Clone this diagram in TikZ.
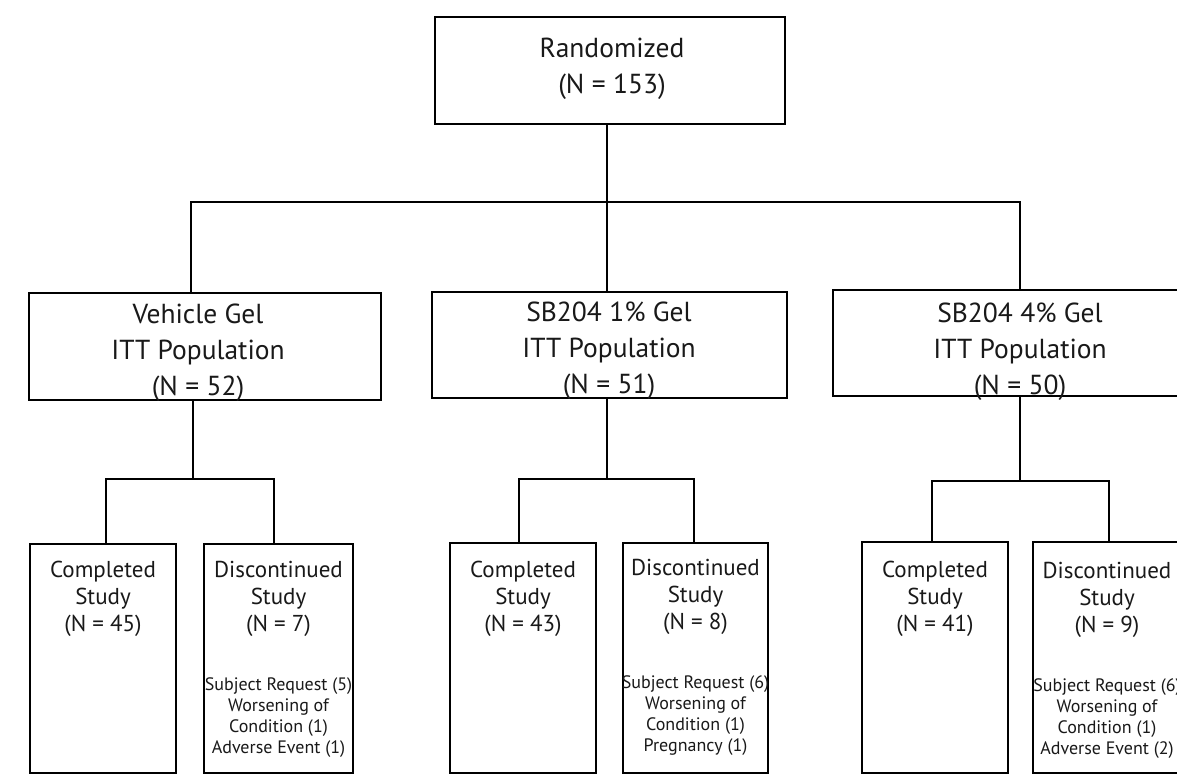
\documentclass[tikz,border=0pt]{standalone}
\usepackage{fontspec}
\setmainfont{PT Sans}
\begin{document}
\begin{tikzpicture}[x=1pt,y=-1pt,
  box/.style={draw=black, line width=1.8pt, inner sep=0pt},
  conn/.style={draw=black, line width=1.8pt},
  bigtxt/.style={font=\fontsize{27.5}{36}\selectfont, align=center, anchor=base, inner sep=0pt, text=black!90},
  midtxt/.style={font=\fontsize{23}{27}\selectfont, align=center, anchor=base, inner sep=0pt, text=black!90},
  smalltxt/.style={font=\fontsize{18}{21}\selectfont, align=center, anchor=base, inner sep=0pt, text=black!90}]
\useasboundingbox (0,0) rectangle (1177,776);
\clip (0,0) rectangle (1177,776);
\fill[white] (0,0) rectangle (1177,776);

% boxes
\node[box, minimum width=350pt, minimum height=107pt] (R) at (610,70.5) {};
\node[box, minimum width=352pt, minimum height=107pt] (V) at (205,346.5) {};
\node[box, minimum width=355pt, minimum height=106pt] (M) at (609.5,345) {};
\node[box, minimum width=374pt, minimum height=106pt] (F) at (1020,343) {};
\node[box, minimum width=146pt, minimum height=229pt] (C1) at (103,658.5) {};
\node[box, minimum width=149pt, minimum height=229pt] (D1) at (278.5,658.5) {};
\node[box, minimum width=146pt, minimum height=230pt] (C2) at (523,658) {};
\node[box, minimum width=145pt, minimum height=230pt] (D2) at (695.5,658) {};
\node[box, minimum width=146pt, minimum height=231pt] (C3) at (935,657.5) {};
\node[box, minimum width=150pt, minimum height=231pt] (D3) at (1108,657.5) {};

% connectors
\coordinate (j0) at (607,202);
\coordinate (hL) at (191,202);
\coordinate (hR) at (1020,202);
\draw[conn] (j0 |- R.south) -- (j0 |- M.north);
\draw[conn] (V.north -| hL) -- (hL) -- (hR) -- (F.north -| hR);

\coordinate (v1) at (193,479); \coordinate (v2) at (106,479); \coordinate (v3) at (274,479);
\draw[conn] (V.south -| v1) -- (v1);
\draw[conn] (C1.north -| v2) -- (v2) -- (v3) -- (D1.north -| v3);

\coordinate (m1) at (607,479); \coordinate (m2) at (519,479); \coordinate (m3) at (694,479);
\draw[conn] (M.south -| m1) -- (m1);
\draw[conn] (C2.north -| m2) -- (m2) -- (m3) -- (D2.north -| m3);

\coordinate (f1) at (1020,481); \coordinate (f2) at (932,481); \coordinate (f3) at (1109,481);
\draw[conn] (F.south -| f1) -- (f1);
\draw[conn] (C3.north -| f2) -- (f2) -- (f3) -- (D3.north -| f3);

% texts (anchor = baseline of the last line)
\node[bigtxt] (Rt) at (612,93) {Randomized\\(N = 153)};
\node[bigtxt] (Vt) at (198,395) {Vehicle Gel\\ITT Population\\(N = 52)};
\node[bigtxt] (Mt) at (609,393) {SB204 1\% Gel\\ITT Population\\(N = 51)};
\node[bigtxt] (Ft) at (1020,394) {SB204 4\% Gel\\ITT Population\\(N = 50)};

\node[midtxt] (C1t) at (103,631) {Completed\\Study\\(N = 45)};
\node[midtxt] (D1t) at (278.5,631) {Discontinued\\Study\\(N = 7)};
\node[smalltxt] (D1s) at (278.5,753) {Subject Request (5)\\Worsening of\\Condition (1)\\Adverse Event (1)};

\node[midtxt] (C2t) at (523,631) {Completed\\Study\\(N = 43)};
\node[midtxt] (D2t) at (695.5,629) {Discontinued\\Study\\(N = 8)};
\node[smalltxt] (D2s) at (695.5,751) {Subject Request (6)\\Worsening of\\Condition (1)\\Pregnancy (1)};

\node[midtxt] (C3t) at (935,631) {Completed\\Study\\(N = 41)};
\node[midtxt] (D3t) at (1107,632) {Discontinued\\Study\\(N = 9)};
\node[smalltxt] (D3s) at (1107,754) {Subject Request (6)\\Worsening of\\Condition (1)\\Adverse Event (2)};
\end{tikzpicture}
\end{document}
